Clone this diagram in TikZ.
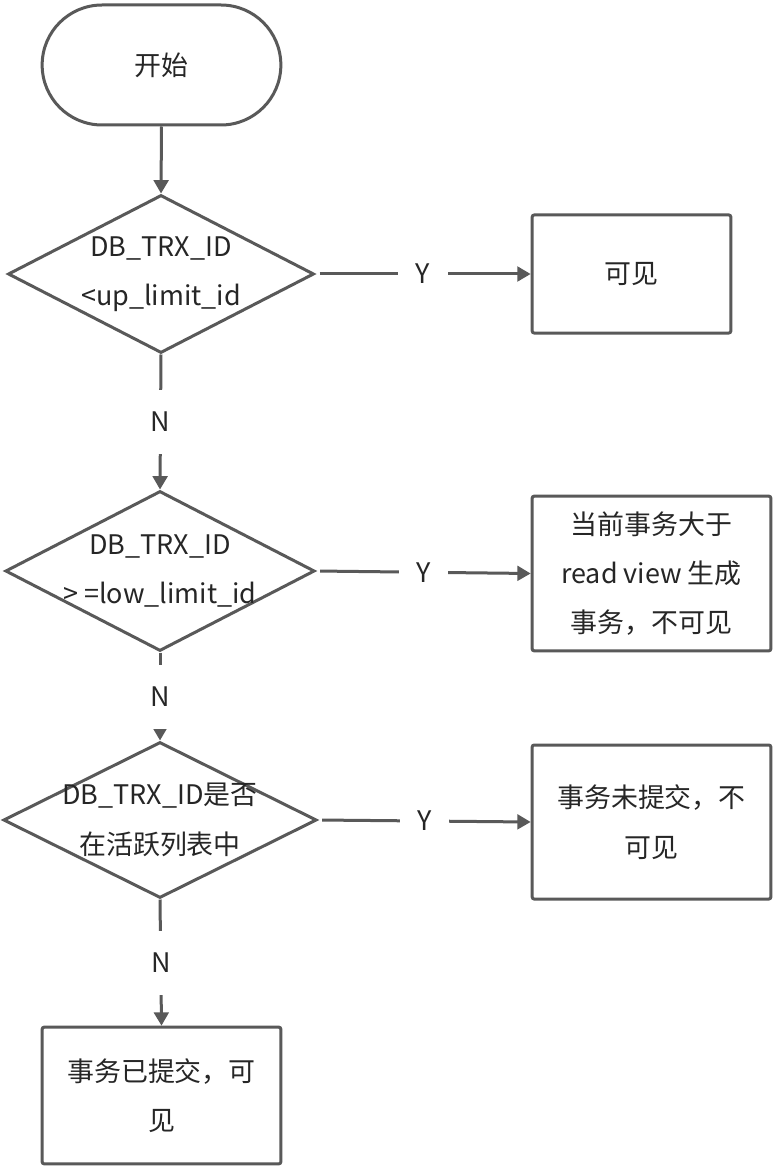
\documentclass[tikz,border=0pt]{standalone}
\usepackage{fontspec}
\setmainfont{Noto Sans CJK SC}
\usetikzlibrary{shapes.geometric,arrows.meta}
\definecolor{strokec}{HTML}{595959}
\definecolor{textc}{HTML}{262626}
\tikzset{
  base/.style={draw=strokec, line width=2.25pt, text=textc, font=\fontsize{20.2}{37}\selectfont, align=center, inner sep=0pt},
  startbox/.style={base, rectangle, rounded corners=44.9pt, minimum width=179pt, minimum height=90pt},
  decision/.style={base, diamond, fill=none},
  procbox/.style={base, rectangle, rounded corners=1.5pt},
  txt/.style={text=textc, font=\fontsize{20.2}{37}\selectfont, align=center, inner sep=0pt},
  conn/.style={draw=strokec, line width=2.25pt, -{Triangle[width=11pt,length=10pt]}},
  hlabel/.style={txt, fill=white, minimum width=37pt, minimum height=20pt},
  vlabel/.style={txt, fill=white, minimum width=20pt, minimum height=48pt},
}
\begin{document}
\begin{tikzpicture}[x=0.75pt,y=-0.75pt]
\useasboundingbox[fill=white] (0,0) rectangle (774,1169);
% start
\node[startbox] (start) at (161.5,65) {开始};
% decisions
\node[decision, minimum width=229.5pt, minimum height=118.5pt] (d1) at (161,274) {};
\node[txt] (d1t) at (d1.center) {DB\_TRX\_ID\\<up\_limit\_id};
\node[decision, minimum width=232pt, minimum height=120pt] (d2) at (160,571) {};
\node[txt] (d2t) at (d2.center) {DB\_TRX\_ID\\> =low\_limit\_id};
\node[decision, minimum width=235pt, minimum height=117pt] (d3) at (160,820) {};
\node[txt] (d3t) at (d3.center) {DB\_TRX\_ID是否\\在活跃列表中};
% boxes
\node[procbox, minimum width=149pt, minimum height=88.5pt] (b1) at (631.5,274) {可见};
\node[procbox, minimum width=179pt, minimum height=116pt] (b2) at (651.5,573.5) {当前事务大于\\read view 生成\\事务，不可见};
\node[procbox, minimum width=179pt, minimum height=115.5pt] (b3) at (651.5,822) {事务未提交，不\\可见};
\node[procbox, minimum width=179pt, minimum height=102.5pt] (b4) at (161.5,1095.5) {事务已提交，可\\见};
% connectors
\draw[conn] (start.south) -- (d1.north);
\draw[conn, shorten <=3pt] (d1.east) -- node[hlabel] (y1) {Y} (b1.west);
\draw[conn, shorten <=3pt] (d2.east) -- node[hlabel] (y2) {Y} (b2.west);
\draw[conn, shorten <=3pt] (d3.east) -- node[hlabel] (y3) {Y} (b3.west);
\draw[conn] (d1.south) -- node[vlabel] (n1) {N} (d2.north);
\draw[conn] (d2.south) -- node[vlabel] (n2) {N} (d3.north);
\draw[conn] (d3.south) -- node[vlabel] (n3) {N} (b4.north);
\end{tikzpicture}
\end{document}
